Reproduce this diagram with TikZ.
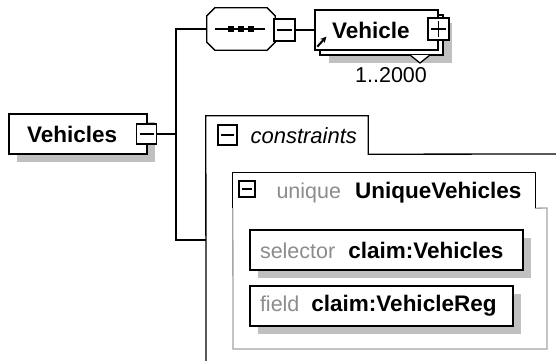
\documentclass[tikz,border=0pt]{standalone}
\usepackage{fontspec}
\setmainfont{Liberation Sans}
\usetikzlibrary{arrows.meta, shadows}

\definecolor{shadowgray}{RGB}{192,192,192}
\definecolor{txtgray}{RGB}{140,140,140}
\definecolor{panelgray}{RGB}{165,165,165}

\newcommand{\kindtext}[1]{{\color{txtgray}\mdseries\fontsize{21.5}{26}\selectfont #1}}

\tikzset{
  schema/.style={line width=1.3pt},
  elem/.style={schema, draw, fill=white, minimum height=40pt, inner ysep=0pt, align=left,
    font=\fontsize{22.5}{26}\selectfont\bfseries},
  single/.style={elem, drop shadow={shadow xshift=8pt, shadow yshift=-8pt, fill=shadowgray, opacity=1}},
  repeated/.style={elem,
    drop shadow={shadow xshift=14pt, shadow yshift=-13pt, fill=shadowgray, opacity=1},
    copy shadow={shadow xshift=5pt, shadow yshift=-5pt, draw, fill=white, line width=1.3pt}},
  seqbox/.style={inner sep=0pt, minimum width=68pt, minimum height=42pt},
  ctrlbox/.style={schema, draw, fill=white, inner sep=0pt, minimum width=20pt, minimum height=20pt},
  minusbox/.style={ctrlbox, path picture={
    \draw[line width=1.3pt] ([xshift=3pt]path picture bounding box.west) -- ([xshift=-3pt]path picture bounding box.east);}},
  plusbox/.style={ctrlbox, path picture={
    \draw[line width=1.3pt] ([xshift=3pt]path picture bounding box.west) -- ([xshift=-3pt]path picture bounding box.east);
    \draw[line width=1.3pt] ([yshift=-3pt]path picture bounding box.north) -- ([yshift=3pt]path picture bounding box.south);}},
  tabhead/.style={inner sep=0pt}
}

\begin{document}
\begin{tikzpicture}[x=1pt, y=-1pt, font=\fontsize{21.5}{26}\selectfont]
    \useasboundingbox (0,0) rectangle (556,360);
    \clip (0,0) rectangle (556,360);

    % constraints panel
    \node[tabhead, minimum width=162pt, minimum height=38pt] (ctab) at (287,135) {};
    \draw[schema] (560,154) -- (ctab.south east) -- (ctab.north east) -- (ctab.north west) -- (206,365);
    \node[minusbox, minimum width=19pt] (cminus) at (227.5,135) {};
    \node[anchor=base west, font=\fontsize{22}{26}\selectfont\itshape] (clabel) at (247,143) {constraints};
    \coordinate (cin) at (206,240);

    % unique panel
    \node[tabhead, minimum width=302pt, minimum height=35pt] (utab) at (384,190.5) {};
    \draw[schema, panelgray] (utab.south east) -- (547,208) -- (547,349) -- (233,349) -- (utab.south west);
    \draw[schema] (utab.south west) |- (utab.north east) -- (utab.south east);
    \node[minusbox, minimum width=16pt, minimum height=16pt] (uminus) at (247,189) {};
    \node[anchor=base west] (ulabel) at (273,198)
        {\kindtext{unique}\hspace{14pt}\textbf{\fontsize{22.5}{26}\selectfont UniqueVehicles}};

    \node[single, inner xsep=10pt, text width=253pt] (selector) at (386.5,250)
        {\kindtext{selector}\hspace{13pt}claim:Vehicles};
    \node[single, inner xsep=10pt, text width=243pt] (field) at (381.5,306)
        {\kindtext{field}\hspace{12pt}claim:VehicleReg};

    % root element
    \coordinate (trunk) at (176,134);
    \node[single, inner xsep=18pt, text width=102pt] (vehicles) at (78,134) {Vehicles};
    \node[minusbox] (vminus) at (146.5,134) {};
    \draw[schema] (vminus.east) -- (trunk);

    % sequence (octagon drawn round the node)
    \node[seqbox] (seq) at (241,29) {};
    \fill[shadowgray, shift={(8,9)}]
        ([xshift=8pt]seq.north west) -- ([xshift=-8pt]seq.north east) -- ([yshift=-8pt]seq.north east)
        -- ([yshift=8pt]seq.south east) -- ([xshift=-8pt]seq.south east) -- ([xshift=8pt]seq.south west)
        -- ([yshift=8pt]seq.south west) -- ([yshift=-8pt]seq.north west) -- cycle;
    \draw[schema, fill=white]
        ([xshift=8pt]seq.north west) -- ([xshift=-8pt]seq.north east) -- ([yshift=-8pt]seq.north east)
        -- ([yshift=8pt]seq.south east) -- ([xshift=-8pt]seq.south east) -- ([xshift=8pt]seq.south west)
        -- ([yshift=8pt]seq.south west) -- ([yshift=-8pt]seq.north west) -- cycle;
    \draw[schema] ([xshift=8pt]seq.west) -- ([xshift=-10pt]seq.east);
    \foreach \dx in {-10,0,10}
        \fill ([xshift=\dx pt]seq.center) +(-3,-3) rectangle +(3,3);
    \node[minusbox, minimum width=21pt, minimum height=22pt] (sminus) at (284.5,30) {};

    \draw[schema] (seq.west) -| (trunk) |- (cin);

    % repeated child
    \node[repeated, inner xsep=17pt, text width=89pt] (vehicle) at (376.5,30) {Vehicle};
    \draw[schema, fill=white] (410,55) -- (420,63) -- (430,55);
    \draw[line width=2pt, -{Stealth[length=6pt, width=6pt]}]
        ([shift={(3,-4)}]vehicle.south west) -- ([shift={(12,-14)}]vehicle.south west);
    \node[plusbox, minimum width=21pt, minimum height=22pt] (vplus) at (438.5,29) {};
    \node[anchor=base] (occurs) at (391,82) {1..2000};

    \draw[schema] (sminus.east) -- (vehicle.west);

\end{tikzpicture}
\end{document}
